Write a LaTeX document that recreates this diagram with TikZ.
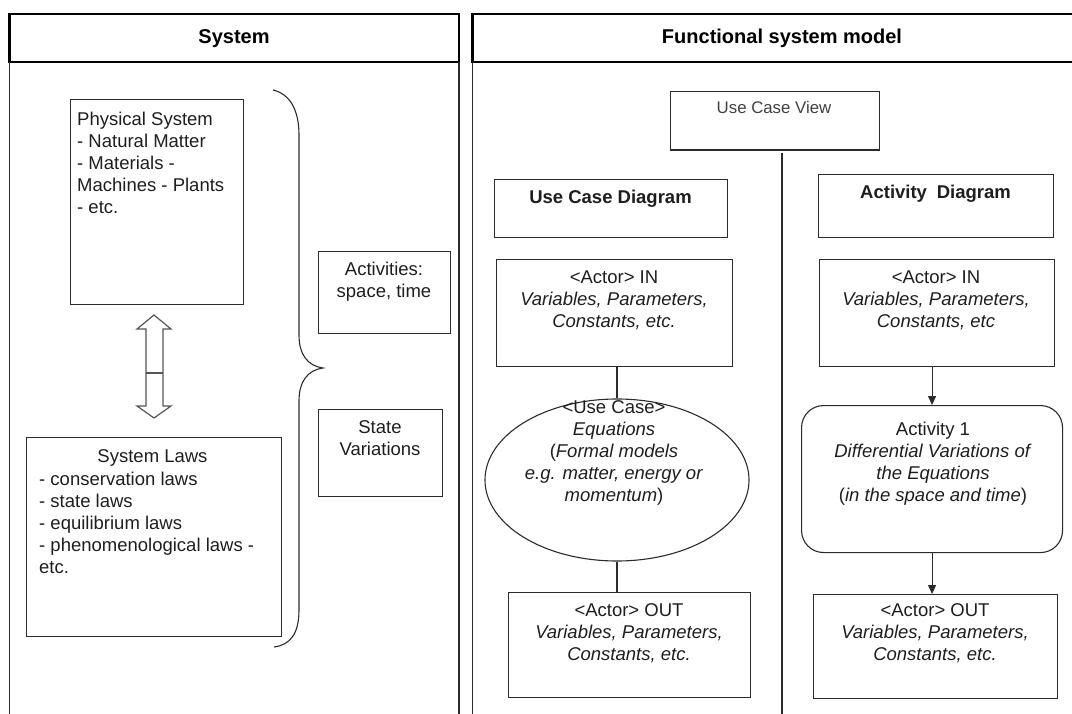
\documentclass[tikz,border=0pt]{standalone}
\usepackage{fontspec}
\setmainfont{Liberation Sans}
\usetikzlibrary{calc,shapes.geometric,arrows.meta}
\definecolor{linec}{HTML}{2B2B2B}
\definecolor{textc}{HTML}{1E1E1E}
\definecolor{arrc}{HTML}{555555}
\begin{document}
\begin{tikzpicture}[x=1pt,y=-1pt,
 box/.style={draw=linec,line width=1.1pt,inner sep=0pt,anchor=north west,rectangle},
 hdrline/.style={draw=black,line width=2.4pt},
 body/.style={draw=linec,line width=1.1pt},
 t/.style={inner sep=0pt,text=textc,font=\fontsize{18.5}{22}\selectfont},
 tb/.style={inner sep=0pt,text=textc,font=\fontsize{18.5}{22}\selectfont\bfseries},
 hdrtext/.style={inner sep=0pt,text=black,font=\fontsize{20}{24}\selectfont\bfseries,anchor=base},
 conn/.style={draw=linec,line width=1.1pt},
 arr/.style={conn,-{Triangle[length=9pt,width=8pt]}},
 dblarrow/.style={draw=arrc,line width=1.2pt,line join=miter},
 bracestyle/.style={draw=linec,line width=1.1pt},
]
\useasboundingbox (0,0) rectangle (1072,714);

% ---------- headers and panel frames ----------
\draw[hdrline] (9.5,14) rectangle (459,62);
\node[hdrtext] (sysh) at (234,44) {System};
\draw[hdrline] (1085,14) -- (472.5,14) -- (472.5,62) -- (1085,62);
\node[hdrtext] (fsmh) at (782,44) {Functional system model};
\draw[body] (9.5,62) -- (9.5,720);
\draw[body] (459,62) -- (459,720);
\draw[body] (472.5,62) -- (472.5,720);

% ---------- left panel ----------
\node[box,minimum width=173pt,minimum height=205pt] (phys) at (70,99) {};
\node[t,anchor=north west,align=left] (physt) at (77,111.7)
  {Physical System\\- Natural Matter\\- Materials -\\Machines - Plants\\- etc.};

\node[box,minimum width=255pt,minimum height=199pt] (laws) at (26,437) {};
\node[t,anchor=north] (lawst) at (152.5,449.4) {System Laws};
\node[t,anchor=north west,align=left] (lawsl) at (39,471.4)
  {- conservation laws\\- state laws\\- equilibrium laws\\- phenomenological laws -\\etc.};

% double arrow
\draw[dblarrow] (154,315) -- (171,329) -- (163,329) -- (163,406) -- (171,406)
  -- (154,418) -- (137,406) -- (146,406) -- (146,329) -- (137,329) -- cycle;
\draw[dblarrow] (146,373) -- (163,373);

% brace
\draw[bracestyle] (273,90) .. controls (290,94) and (299,110) .. (299,135)
  -- (299,335) .. controls (299,355) and (308,366) .. (323,368)
  .. controls (308,370) and (299,381) .. (299,401)
  -- (299,610) .. controls (299,634) and (290,645) .. (274,647);

\node[box,minimum width=132pt,minimum height=82pt] (actbox) at (318,251) {};
\node[t,anchor=north,align=center] (actt) at (384,261.4) {Activities:\\space, time};
\node[box,minimum width=124pt,minimum height=87pt] (state) at (318,409) {};
\node[t,anchor=north,align=center] (statet) at (380,420.4) {State\\Variations};

% ---------- right panel ----------
\node[box,minimum width=208.5pt,minimum height=58.5pt] (ucv) at (670,91) {};
\node[inner sep=0pt,text=textc!85,font=\fontsize{16.8}{20}\selectfont,anchor=north] (ucvt) at (774,101) {Use Case View};
\coordinate (dtop) at (782,153);
\coordinate (dbot) at (782,720);
\draw[body] (dtop) -- (dbot);

\node[box,minimum width=233pt,minimum height=58.6pt] (ucd) at (494,178.7) {};
\node[tb,anchor=north] (ucdt) at (610.5,190.1) {Use Case Diagram};
\node[box,minimum width=235pt,minimum height=63.3pt] (ad) at (818,174) {};
\node[tb,anchor=north] (adt) at (935.5,185.1) {Activity\hspace{0.25em} Diagram};

\node[box,minimum width=236pt,minimum height=107pt] (inL) at (496,259) {};
\node[t,anchor=north,align=center] (inLt) at (614,270.4)
  {<Actor> IN\\\textit{Variables, Parameters,}\\\textit{Constants, etc.}};

\node[draw=linec,line width=1.1pt,ellipse,minimum width=264pt,minimum height=162pt,inner sep=0pt] (uc) at (617,480) {};
\node[t,anchor=north,align=center] (uct) at (614,400.4)
  {<Use Case>\\\textit{Equations}\\(\textit{Formal models}\\\textit{e.g. matter, energy or}\\\textit{momentum})};

\node[box,minimum width=242pt,minimum height=105pt] (outL) at (508,592) {};
\node[t,anchor=north,align=center] (outLt) at (629,603.4)
  {<Actor> OUT\\\textit{Variables, Parameters,}\\\textit{Constants, etc.}};

\node[box,minimum width=235pt,minimum height=107pt] (inR) at (819,259) {};
\node[t,anchor=north,align=center] (inRt) at (936,270.4)
  {<Actor> IN\\\textit{Variables, Parameters,}\\\textit{Constants, etc}};

\node[draw=linec,line width=1.1pt,rectangle,rounded corners=22pt,minimum width=261pt,minimum height=147pt,inner sep=0pt,anchor=north west] (actv) at (801,405) {};
\node[t,anchor=north,align=center] (actvt) at (933,421.4)
  {Activity 1\\\textit{Differential Variations of}\\\textit{the Equations}\\(\textit{in the space and time})};

\node[box,minimum width=244pt,minimum height=104pt] (outR) at (813,594) {};
\node[t,anchor=north,align=center] (outRt) at (935,603.4)
  {<Actor> OUT\\\textit{Variables, Parameters,}\\\textit{Constants, etc.}};

% ---------- connectors ----------
\draw[conn] (inL.south -| uc.north) -- (uc.north);
\draw[conn] (uc.south) -- (uc.south |- outL.north);
\draw[arr] (actv.north |- inR.south) -- (actv.north);
\draw[arr] (actv.south) -- (actv.south |- outR.north);
\end{tikzpicture}
\end{document}
